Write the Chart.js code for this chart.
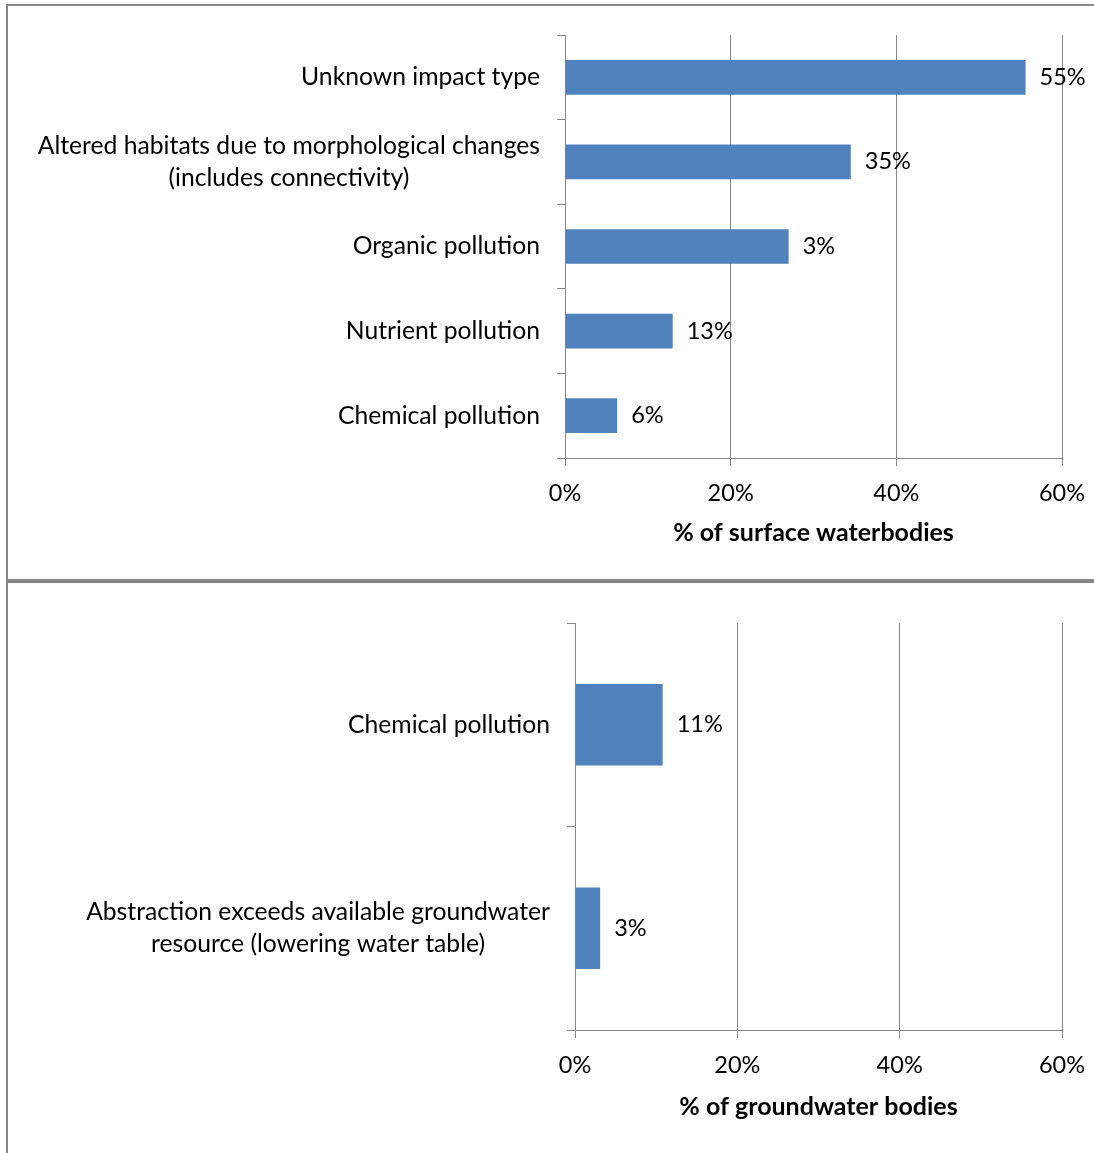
<!DOCTYPE html>
<html>
<head>
<meta charset="utf-8">
<script src="https://cdn.jsdelivr.net/npm/chart.js@4/dist/chart.umd.min.js"></script>
<style>
  html, body { margin: 0; padding: 0; background: #fff; }
  body { width: 1094px; height: 1153px; position: relative; overflow: hidden; }
  .line { position: absolute; background: #878787; }
  .panel { position: absolute; left: 0; width: 1094px; }
</style>
</head>
<body>
<div class="line" style="left:6px; top:4px; width:1088px; height:2px;"></div>
<div class="line" style="left:6px; top:4px; width:2px; height:1149px;"></div>
<div class="line" style="left:6px; top:579px; width:1088px; height:4px;"></div>
<div class="panel" style="top:0; height:579px;"><canvas id="c1"></canvas></div>
<div class="panel" style="top:583px; height:570px;"><canvas id="c2"></canvas></div>
<script>
// ---- Data ----
const surfaceCategories = [
  "Unknown impact type",
  ["Altered habitats due to morphological changes", "(includes connectivity)"],
  "Organic pollution",
  "Nutrient pollution",
  "Chemical pollution"
];
const surfaceValues = [55.6, 34.5, 27.0, 13.0, 6.3];
const surfaceLabels = ["55%", "35%", "3%", "13%", "6%"];

const groundCategories = [
  "Chemical pollution",
  ["Abstraction exceeds available groundwater", "resource (lowering water table)"]
];
const groundValues = [10.8, 3.1];
const groundLabels = ["11%", "3%"];

const xTicks = [0, 20, 40, 60];
const surfaceTitle = "% of surface waterbodies";
const groundTitle = "% of groundwater bodies";

// ---- Styling ----
const FONT = "Lato";
const FS_CAT = 24.7;
const FS_NUM = 23.5;
const FS_TITLE = 25;
const LINE_H = 32;
const BAR = "#4F81BD";
const GRID = "#878787";

const valueLabelPlugin = {
  id: "valueLabels",
  afterDatasetsDraw(chart) {
    const ctx = chart.ctx;
    const labels = chart.options.plugins.valueLabels.labels;
    const meta = chart.getDatasetMeta(0);
    ctx.save();
    ctx.font = FS_NUM + "px " + FONT;
    ctx.fillStyle = "#000";
    ctx.textAlign = "left";
    ctx.textBaseline = "middle";
    meta.data.forEach((el, i) => {
      ctx.fillText(labels[i], el.x + 14, el.y);
    });
    ctx.restore();
  }
};

// category labels: right-aligned block, lines centred within block
const catLabelPlugin = {
  id: "catLabels",
  afterDraw(chart) {
    const ctx = chart.ctx;
    const ys = chart.scales.y;
    const right = chart.chartArea.left - 25;
    ctx.save();
    ctx.font = FS_CAT + "px " + FONT;
    ctx.fillStyle = "#000";
    ctx.textAlign = "center";
    ctx.textBaseline = "middle";
    chart.data.labels.forEach((lab, i) => {
      const lines = Array.isArray(lab) ? lab : [lab];
      const w = Math.max(...lines.map(l => ctx.measureText(l).width));
      const cx = right - w / 2;
      const y = ys.getPixelForValue(i);
      lines.forEach((l, j) => {
        ctx.fillText(l, cx, y + (j - (lines.length - 1) / 2) * LINE_H);
      });
    });
    ctx.restore();
  }
};

function makeChart(id, cats, vals, labels, title, opts) {
  return new Chart(document.getElementById(id), {
    type: "bar",
    data: {
      labels: cats,
      datasets: [{
        data: vals,
        backgroundColor: BAR,
        borderWidth: 0,
        barPercentage: opts.barPct,
        categoryPercentage: 1
      }]
    },
    options: {
      indexAxis: "y",
      responsive: true,
      maintainAspectRatio: false,
      animation: false,
      layout: { padding: { left: 10, top: opts.top, right: 32, bottom: 0 } },
      plugins: {
        legend: { display: false },
        tooltip: { enabled: false },
        valueLabels: { labels: labels }
      },
      scales: {
        x: {
          min: 0, max: 60,
          afterBuildTicks: s => { s.ticks = xTicks.map(v => ({ value: v })); },
          ticks: {
            callback: v => v + "%",
            color: "#000",
            font: { family: FONT, size: FS_NUM },
            padding: 13,
            maxRotation: 0
          },
          grid: { color: GRID, lineWidth: 1, tickLength: 8, drawOnChartArea: true },
          border: { display: true, color: GRID, width: 1 },
          title: {
            display: true, text: title, color: "#000",
            font: { family: FONT, size: FS_TITLE, weight: "bold" },
            padding: { top: 0, bottom: opts.titleBottom }
          },
          afterFit: s => { s.height = opts.xHeight; s.paddingLeft = 0; s.paddingRight = 0; }
        },
        y: {
          ticks: { display: false },
          grid: { color: GRID, lineWidth: 1, tickLength: 8, drawOnChartArea: false, offset: true },
          border: { display: true, color: GRID, width: 1 },
          afterFit: s => { s.width = opts.yWidth; s.paddingTop = 0; s.paddingBottom = 0; }
        }
      }
    },
    plugins: [valueLabelPlugin, catLabelPlugin]
  });
}

makeChart("c1", surfaceCategories, surfaceValues, surfaceLabels, surfaceTitle,
  { top: 35, xHeight: 121, yWidth: 555, barPct: 0.41, titleBottom: 31 });
makeChart("c2", groundCategories, groundValues, groundLabels, groundTitle,
  { top: 40, xHeight: 123, yWidth: 565, barPct: 0.40, titleBottom: 31 });
</script>
</body>
</html>
